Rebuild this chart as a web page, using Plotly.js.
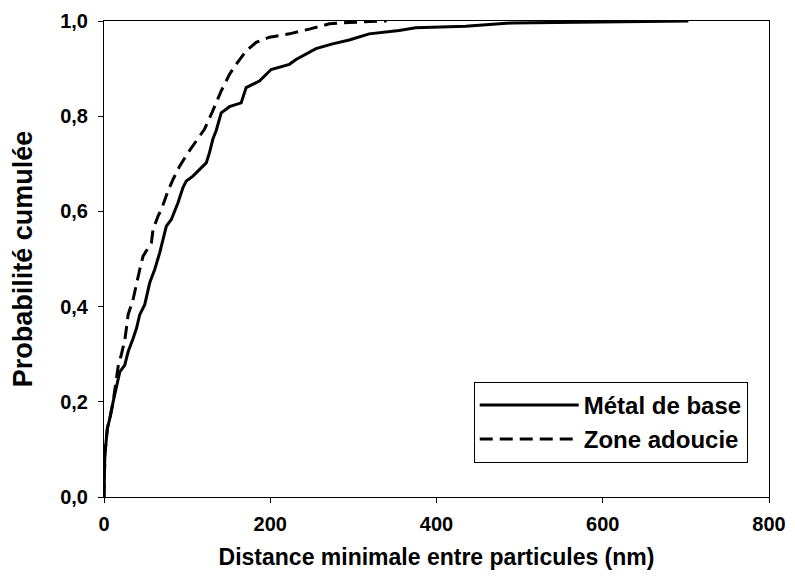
<!DOCTYPE html>
<html>
<head>
<meta charset="utf-8">
<script src="https://cdn.plot.ly/plotly-3.0.1.min.js"></script>
<style>html,body{margin:0;padding:0;background:#fff;}#chart{width:795px;height:584px;}</style>
</head>
<body>
<div id="chart"></div>
<script>
// Métal de base (solid)
const baseX = [0, 0.4, 1, 4, 7, 11, 15, 19, 25, 29, 35, 39, 43, 49, 55, 61, 67, 73, 75, 81, 89, 95, 99, 107, 115, 123, 127, 131, 135, 138, 141, 151, 165, 171, 187, 201, 223, 231, 255, 275, 295, 319, 355, 375, 435, 491, 600, 703];
const baseY = [0, 0.03, 0.088, 0.144, 0.165, 0.2, 0.235, 0.263, 0.277, 0.305, 0.333, 0.354, 0.383, 0.404, 0.45, 0.478, 0.513, 0.555, 0.569, 0.583, 0.618, 0.65, 0.664, 0.674, 0.688, 0.702, 0.724, 0.752, 0.77, 0.79, 0.807, 0.82, 0.828, 0.86, 0.874, 0.898, 0.909, 0.919, 0.942, 0.952, 0.96, 0.973, 0.98, 0.986, 0.989, 0.996, 0.998, 1.0];
// Zone adoucie (dashed)
const softX = [0, 0.4, 1, 4, 7, 11, 15, 17, 21, 25, 27, 29, 35, 39, 43, 47, 57, 59, 65, 69, 77, 83, 91, 101, 111, 121, 129, 135, 141, 151, 159, 171, 183, 199, 223, 247, 271, 295, 340];
const softY = [0, 0.03, 0.088, 0.144, 0.165, 0.2, 0.246, 0.274, 0.3, 0.33, 0.355, 0.383, 0.415, 0.45, 0.478, 0.506, 0.534, 0.562, 0.59, 0.604, 0.643, 0.667, 0.695, 0.723, 0.748, 0.773, 0.804, 0.829, 0.853, 0.888, 0.909, 0.937, 0.955, 0.966, 0.973, 0.983, 0.994, 0.997, 1.0];
const seriesNames = ['Métal de base', 'Zone adoucie'];
const xTicks = [0, 200, 400, 600, 800];
const yTicks = [0, 0.2, 0.4, 0.6, 0.8, 1.0];

const fontFam = 'Liberation Sans, Arial, sans-serif';
const traces = [
  {x: baseX, y: baseY, name: seriesNames[0], mode: 'lines', line: {color: '#000', width: 3}},
  {x: softX, y: softY, name: seriesNames[1], mode: 'lines', line: {color: '#000', width: 3, dash: '13px,7px'}}
];
const layout = {
  width: 795, height: 584,
  margin: {l: 104, r: 26, t: 21, b: 87},
  paper_bgcolor: '#fff', plot_bgcolor: '#fff',
  separators: ', ',
  font: {family: fontFam, color: '#000'},
  xaxis: {
    range: [0, 800], tickvals: xTicks, tickformat: 'd',
    showgrid: false, zeroline: false, showline: true, mirror: true,
    linecolor: '#000', linewidth: 1, ticks: 'outside', ticklen: 5, tickcolor: '#000',
    ticklabelstandoff: 4,
    tickfont: {size: 20, family: fontFam, weight: 'bold'},
    title: {text: '<b>Distance minimale entre particules (nm)</b>', font: {size: 23, family: fontFam}, standoff: 14}
  },
  yaxis: {
    range: [0, 1.0], tickvals: yTicks, tickformat: '.1f',
    showgrid: false, zeroline: false, showline: true, mirror: true,
    linecolor: '#000', linewidth: 1, ticks: 'outside', ticklen: 5, tickcolor: '#000',
    ticklabelstandoff: 6,
    tickfont: {size: 20, family: fontFam, weight: 'bold'},
    title: {text: '<b>Probabilité cumulée</b>', font: {size: 27, family: fontFam}, standoff: 19}
  },
  legend: {
    x: 0.556, y: 0.242, xanchor: 'left', yanchor: 'top',
    bordercolor: '#000', borderwidth: 1, bgcolor: '#fff',
    font: {size: 24, family: fontFam, weight: 'bold'},
    itemwidth: 99
  },
  showlegend: true
};
Plotly.newPlot('chart', traces, layout, {displayModeBar: false, staticPlot: true});
</script>
</body>
</html>
